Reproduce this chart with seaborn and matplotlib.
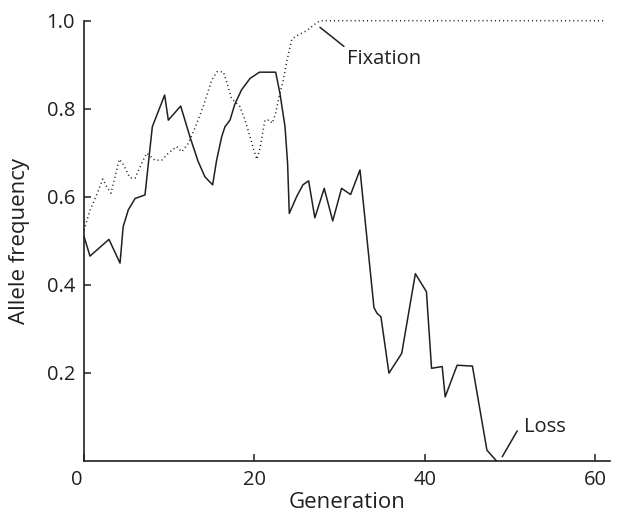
import matplotlib
matplotlib.use("Agg")
import matplotlib.pyplot as plt
import matplotlib.transforms as mtransforms
import seaborn as sns
import pandas as pd

# Solid line: population heading to loss
gen_loss = [0, 0.7, 2.93, 4.23, 4.6, 5.2, 6.0, 7.16, 8.02, 9.47, 9.9, 11.35, 12.44, 13.4,
            14.2, 15.1, 15.57, 16.16, 16.55, 17.14, 17.7, 18.5, 19.5, 20.6, 22.5, 23.0,
            23.6, 23.9, 24.1, 24.96, 25.7, 26.37, 27.1, 28.2, 29.2, 30.24, 31.3, 32.4,
            34.04, 34.4, 34.86, 35.8, 37.3, 38.9, 40.2, 40.8, 42.05, 42.4, 43.8, 45.6,
            47.3, 48.4]
freq_loss = [0.51, 0.465, 0.503, 0.449, 0.532, 0.570, 0.596, 0.604, 0.759, 0.831, 0.774,
             0.806, 0.736, 0.68, 0.645, 0.627, 0.683, 0.736, 0.759, 0.774, 0.81, 0.843,
             0.869, 0.883, 0.883, 0.835, 0.759, 0.676, 0.562, 0.6, 0.627, 0.636, 0.552,
             0.619, 0.545, 0.619, 0.605, 0.661, 0.348, 0.335, 0.327, 0.199, 0.244, 0.425,
             0.384, 0.21, 0.214, 0.145, 0.217, 0.215, 0.024, 0.0]

# Dotted line: population heading to fixation
gen_fix = [0, 0.7, 1.4, 2.2, 2.66, 3.17, 3.64, 4.14, 4.54, 5.4, 5.99, 6.77, 7.36, 8.33,
           9.12, 9.9, 10.88, 11.47, 12.24, 13.0, 14.0, 15.0, 15.6, 16.35, 16.75, 17.3,
           18.3, 18.9, 19.5, 19.87, 20.3, 20.66, 20.97, 21.24, 21.8, 22.1, 22.5, 22.9,
           23.4, 23.8, 24.2, 24.4, 24.9, 26.1, 27.3, 27.7, 61.2]
freq_fix = [0.524, 0.569, 0.6, 0.64, 0.623, 0.608, 0.645, 0.685, 0.676, 0.643, 0.642,
            0.676, 0.699, 0.683, 0.683, 0.699, 0.714, 0.702, 0.721, 0.755, 0.805, 0.865,
            0.884, 0.884, 0.861, 0.824, 0.805, 0.774, 0.736, 0.71, 0.685, 0.71, 0.744,
            0.774, 0.774, 0.767, 0.79, 0.827, 0.865, 0.907, 0.941, 0.958, 0.965, 0.977,
            0.995, 1.0, 1.0]

x_ticks = [0, 20, 40, 60]
y_ticks = [0.2, 0.4, 0.6, 0.8, 1.0]
y_ticklabels = ["0.2", "0.4", "0.6", "0.8", "1.0"]

sns.set_style("white")
plt.rcParams["font.family"] = ["Open Sans", "DejaVu Sans"]
ink = "#231f20"

fig = plt.figure(figsize=(6.19, 5.17), dpi=100)
ax = fig.add_axes([84 / 619, 1 - 460.7 / 517, (610 - 84) / 619, (460.7 - 20.7) / 517])

df_loss = pd.DataFrame({"Generation": gen_loss, "freq": freq_loss})
df_fix = pd.DataFrame({"Generation": gen_fix, "freq": freq_fix})

sns.lineplot(data=df_loss, x="Generation", y="freq", ax=ax, color=ink, lw=1.1,
             estimator=None, sort=False, clip_on=False)
sns.lineplot(data=df_fix, x="Generation", y="freq", ax=ax, color=ink, lw=1.1,
             linestyle=(0, (0.7, 2.0)), estimator=None, sort=False, clip_on=False)

ax.set_xlim(0, 61.75)
ax.set_ylim(0, 1.0)
ax.set_xticks(x_ticks)
ax.set_xticklabels([str(t) for t in x_ticks])
ax.set_yticks(y_ticks)
ax.set_yticklabels(y_ticklabels)
ax.tick_params(bottom=True, left=True, direction="in", length=5, width=1.1, color=ink,
               labelcolor=ink, labelsize=14.5)
ax.tick_params(axis="y", pad=6.5)
ax.tick_params(axis="x", pad=7)
for s in ["top", "right"]:
    ax.spines[s].set_visible(False)
for s in ["left", "bottom"]:
    ax.spines[s].set_color(ink)
    ax.spines[s].set_linewidth(1.2)

# shift the "0" x-tick label slightly to the left, as in the reference
lbl0 = ax.get_xticklabels()[0]
lbl0.set_transform(lbl0.get_transform() + mtransforms.ScaledTranslation(-7 / 100, 0, fig.dpi_scale_trans))

ax.set_xlabel("Generation", fontsize=16, color=ink)
ax.set_ylabel("Allele frequency", fontsize=16, color=ink)
ax.xaxis.label.set_va("center")
ax.yaxis.label.set_va("center")
ax.xaxis.set_label_coords(0.5, (460.7 - 503) / 440)
ax.yaxis.set_label_coords((20 - 84) / 526, 0.5)

ax.annotate("Fixation", xy=(27.7, 0.985), xytext=(30.9, 0.913), fontsize=14.5, color=ink,
            ha="left", va="center",
            arrowprops=dict(arrowstyle="-", color=ink, lw=1.1, shrinkA=0, shrinkB=0,
                            relpos=(0, 1)), annotation_clip=False)
ax.annotate("Loss", xy=(49.1, 0.009), xytext=(51.6, 0.077), fontsize=14.5, color=ink,
            ha="left", va="center",
            arrowprops=dict(arrowstyle="-", color=ink, lw=1.1, shrinkA=0, shrinkB=0,
                            relpos=(-0.15, 0.3)), annotation_clip=False)

fig.savefig("out.png", dpi=100)
